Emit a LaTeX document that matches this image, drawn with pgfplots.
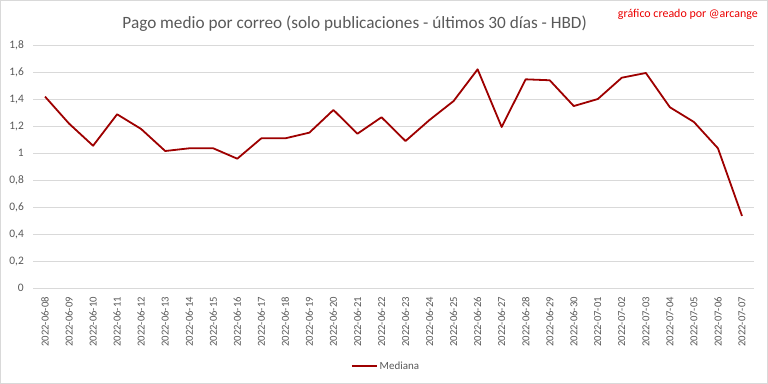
\documentclass[border=0pt]{standalone}
\usepackage{fontspec}
\setmainfont{Carlito}
\usepackage{pgfplots}
\pgfplotsset{compat=1.18}
\definecolor{linec}{RGB}{158,0,0}
\definecolor{gridc}{RGB}{217,217,217}
\definecolor{txt}{RGB}{89,89,89}
\definecolor{redt}{RGB}{235,0,0}
\pgfplotstableread{
x y
0 1.42
1 1.22
2 1.056
3 1.289
4 1.18
5 1.017
6 1.037
7 1.037
8 0.96
9 1.111
10 1.111
11 1.153
12 1.321
13 1.145
14 1.267
15 1.091
16 1.247
17 1.387
18 1.622
19 1.195
20 1.548
21 1.541
22 1.350
23 1.402
24 1.560
25 1.595
26 1.341
27 1.232
28 1.037
29 0.536
}\datatable
\begin{document}
\begin{tikzpicture}
\useasboundingbox (0bp,0bp) rectangle (768bp,384bp);
\fill[white] (0bp,0bp) rectangle (768bp,384bp);
\draw[gridc, line width=0.75bp] (0.4bp,0.4bp) rectangle (767.6bp,383.6bp);
\node[text=txt, font=\fontsize{17.3}{20}\selectfont, anchor=base, inner sep=0pt] at (354.7bp,355bp) {Pago medio por correo (solo publicaciones - últimos 30 días - HBD)};
\node[text=redt, font=\fontsize{12}{14}\selectfont, anchor=base east, inner sep=0pt] at (758bp,366.5bp) {gráfico creado por @arcange};
\begin{axis}[
  at={(33bp,95.7bp)}, anchor=south west,
  scale only axis, width=721bp, height=243bp,
  xmin=-0.5, xmax=29.5, ymin=0, ymax=1.8,
  ytick={0,0.2,0.4,0.6,0.8,1,1.2,1.4,1.6,1.8},
  xtick={0,...,29},
  xticklabels={2022-06-08,2022-06-09,2022-06-10,2022-06-11,2022-06-12,2022-06-13,2022-06-14,2022-06-15,2022-06-16,2022-06-17,2022-06-18,2022-06-19,2022-06-20,2022-06-21,2022-06-22,2022-06-23,2022-06-24,2022-06-25,2022-06-26,2022-06-27,2022-06-28,2022-06-29,2022-06-30,2022-07-01,2022-07-02,2022-07-03,2022-07-04,2022-07-05,2022-07-06,2022-07-07},
  x tick label style={rotate=90, anchor=east, inner sep=0pt, font=\fontsize{10.7}{13}\selectfont, text=txt},
  y tick label style={anchor=east, inner sep=0pt, font=\fontsize{11.5}{14}\selectfont, text=txt},
  xticklabel shift=8.5bp,
  yticklabel shift=9bp,
  /pgf/number format/assume math mode=true,
  /pgf/number format/use comma,
  /pgf/number format/fixed,
  ymajorgrids, grid style={gridc, line width=0.75bp},
  axis line style={draw=none},
  major tick length=0pt,
  legend style={at={(0.4896,-0.32)}, anchor=center, draw=none, fill=none, font=\fontsize{11}{13}\selectfont, text=txt, inner sep=0pt},
  legend image code/.code={\draw[#1, line width=1.8bp] (0bp,0bp) -- (25bp,0bp);},
]
\addplot[linec, line width=1.8bp, line join=round] table[x=x,y=y] {\datatable};
\addlegendentry{Mediana}
\end{axis}
\end{tikzpicture}
\end{document}
